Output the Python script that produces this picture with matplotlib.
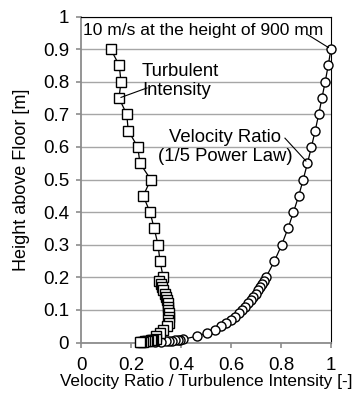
import matplotlib.pyplot as plt

plt.rcParams['font.family'] = ['Liberation Sans', 'DejaVu Sans']

# --- DATOS ---
# alturas [m]
altura = [0.9, 0.85, 0.8, 0.75, 0.7, 0.65, 0.6, 0.55, 0.5, 0.45, 0.4, 0.35, 0.3, 0.25, 0.2,
          0.19, 0.18, 0.17, 0.16, 0.15, 0.14, 0.13, 0.12, 0.11, 0.1,
          0.09, 0.08, 0.07, 0.06, 0.05, 0.04, 0.03, 0.02, 0.01,
          0.009, 0.008, 0.007, 0.006, 0.005, 0.004, 0.003, 0.002, 0.001]

# razón de velocidad (ley de potencia 1/5)
vel_ratio = [1.0, 0.989, 0.977, 0.964, 0.951, 0.937, 0.922, 0.906, 0.889, 0.871, 0.850, 0.828,
             0.803, 0.774, 0.740,
             0.732, 0.725, 0.717, 0.708, 0.699, 0.689, 0.679, 0.668, 0.657, 0.644,
             0.631, 0.616, 0.600, 0.581, 0.561, 0.537, 0.506, 0.466, 0.407,
             0.398, 0.389, 0.378, 0.366, 0.354, 0.339, 0.320, 0.295, 0.256]

# intensidad de turbulencia
turb_int = [0.119, 0.153, 0.160, 0.152, 0.183, 0.189, 0.227, 0.236, 0.279, 0.249, 0.276, 0.293,
            0.308, 0.316, 0.329,
            0.313, 0.320, 0.323, 0.330, 0.336, 0.340, 0.343, 0.347, 0.348, 0.350,
            0.352, 0.352, 0.350, 0.352, 0.345, 0.330, 0.315, 0.300, 0.300,
            0.290, 0.285, 0.280, 0.270, 0.265, 0.255, 0.250, 0.240, 0.235]

x_ticks = [0, 0.2, 0.4, 0.6, 0.8, 1]
y_ticks = [0, 0.1, 0.2, 0.3, 0.4, 0.5, 0.6, 0.7, 0.8, 0.9, 1]

# --- GRAFICAR ---
fig = plt.figure(figsize=(3.53, 3.94), dpi=100)
ax = fig.add_axes([0.2295, 0.1305, 0.708, 0.8275])

ax.plot(vel_ratio, altura, color='black', lw=0.9, marker='o', ms=6.5,
        mfc='white', mec='black', mew=1.0, clip_on=False, zorder=3)
ax.plot(turb_int, altura, color='black', lw=0.9, marker='s', ms=6.5,
        mfc='white', mec='black', mew=1.0, clip_on=False, zorder=4)

ax.set_xlim(0, 1)
ax.set_ylim(0, 1)
ax.set_xticks(x_ticks)
ax.set_yticks(y_ticks)
ax.set_xticklabels(['0', '0.2', '0.4', '0.6', '0.8', '1'])
ax.set_yticklabels(['0', '0.1', '0.2', '0.3', '0.4', '0.5', '0.6', '0.7', '0.8', '0.9', '1'])
ax.tick_params(axis='both', labelsize=13.5, color='#8c8c8c', length=3.5, width=1.2, direction='out')
ax.tick_params(axis='x', pad=7)
ax.tick_params(axis='y', pad=5)
ax.grid(axis='y', color='#a6a6a6', lw=1.0)
ax.set_axisbelow(True)

ax.spines['left'].set_color('#8c8c8c')
ax.spines['bottom'].set_color('#8c8c8c')
ax.spines['left'].set_linewidth(1.3)
ax.spines['bottom'].set_linewidth(1.3)
ax.spines['top'].set_color('black')
ax.spines['right'].set_color('black')

ax.set_xlabel('Velocity Ratio / Turbulence Intensity [-]', fontsize=12.3, labelpad=0)
ax.set_ylabel('Height above Floor [m]', fontsize=13, labelpad=9)

# --- ANOTACIONES ---
ax.text(0.008, 0.956, '10 m/s at the height of 900 mm', fontsize=12.5, ha='left', va='center')
ax.plot([0.908, 0.99], [0.944, 0.905], color='black', lw=0.8, zorder=5)

ax.text(0.244, 0.802, 'Turbulent\nIntensity', fontsize=13.3, ha='left', va='center', linespacing=1.1)
ax.plot([0.264, 0.16], [0.781, 0.752], color='black', lw=0.8, zorder=5)

ax.text(0.576, 0.60, 'Velocity Ratio\n(1/5 Power Law)', fontsize=13.3, ha='center', va='center',
        linespacing=1.1)
ax.plot([0.816, 0.9], [0.627, 0.557], color='black', lw=0.8, zorder=5)

plt.savefig('out.png', dpi=100)
